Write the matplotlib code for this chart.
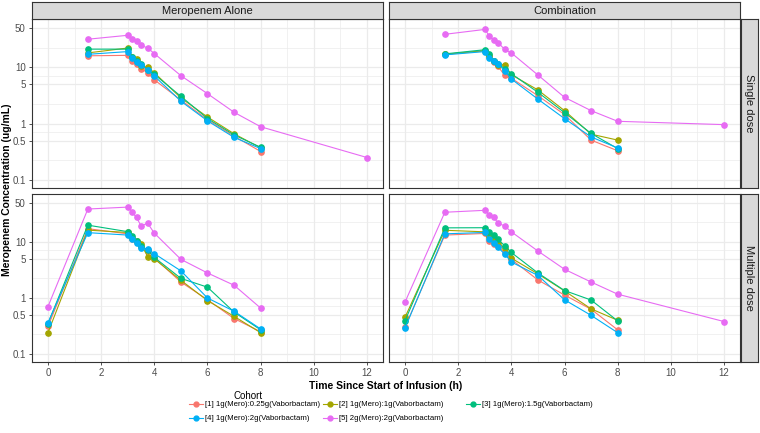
import numpy as np
import matplotlib
matplotlib.use("Agg")
import matplotlib.pyplot as plt
from matplotlib.lines import Line2D

plt.rcParams['font.family'] = ['Liberation Sans', 'DejaVu Sans']

# time points (h)
t_sd = [1.5, 3, 3.17, 3.33, 3.5, 3.75, 4, 5, 6, 7, 8]
t_md = [0] + t_sd
t_late = 12  # extra late sample, only some cohort-5 series

cohorts = ["[1] 1g(Mero):0.25g(Vaborbactam)", "[2] 1g(Mero):1g(Vaborbactam)",
           "[3] 1g(Mero):1.5g(Vaborbactam)", "[4] 1g(Mero):2g(Vaborbactam)",
           "[5] 2g(Mero):2g(Vaborbactam)"]
colors = ["#F8766D", "#A3A500", "#00BF7D", "#00B0F6", "#E76BF3"]

col_labels = ["Meropenem Alone", "Combination"]
row_labels = ["Single dose", "Multiple dose"]

# meropenem alone, single dose
alone_sd = [
    [16, 16.3, 13, 11.5, 9.5, 8, 6, 2.62, 1.17, 0.6, 0.32],
    [18, 22, 15.5, 14, 10.5, 10, 8, 2.86, 1.31, 0.66, 0.37],
    [21, 21, 15, 13, 11.5, 9, 7.5, 3.05, 1.23, 0.63, 0.38],
    [17, 19, 14.5, 12.5, 11, 9, 7, 2.5, 1.12, 0.57, 0.36],
    [31.5, 37, 32, 29, 24.5, 22, 17.5, 7.1, 3.4, 1.59, 0.88, 0.25],
]
# combination, single dose
combo_sd = [
    [17, 19.5, 16, 12.2, 10.4, 7.2, 6.4, 3.13, 1.45, 0.51, 0.33],
    [17, 19.8, 16, 13, 11, 11.1, 7.4, 3.96, 1.7, 0.65, 0.51],
    [17.3, 20.5, 17.3, 13.2, 11.5, 9.4, 7.7, 3.6, 1.57, 0.67, 0.36],
    [16.6, 19, 14.5, 13, 11.6, 8.7, 6.2, 2.72, 1.23, 0.58, 0.37],
    [38.5, 47, 36.5, 30.6, 27.4, 20.8, 18, 7.3, 2.93, 1.7, 1.1, 0.96],
]
# meropenem alone, multiple dose
alone_md = [
    [0.31, 17.3, 14, 11.5, 10, 8.3, 7, 5.2, 1.93, 0.93, 0.43, 0.25],
    [0.24, 16.3, 14.8, 12, 10.5, 9.1, 5.5, 5.0, 2.07, 0.9, 0.47, 0.24],
    [0.35, 20, 15.3, 12.9, 10.6, 8.5, 7.2, 5.3, 2.24, 1.56, 0.56, 0.27],
    [0.36, 14.7, 13.3, 11.3, 9.8, 7.7, 7.4, 6.2, 3.05, 1.0, 0.58, 0.28],
    [0.7, 38.8, 42, 34, 27.4, 19.5, 21.6, 14.4, 4.9, 2.8, 1.69, 0.66],
]
# combination, multiple dose
combo_md = [
    [0.3, 13.3, 14.2, 10.5, 9.2, 8.5, 6.4, 4.9, 2.1, 1.13, 0.63, 0.27],
    [0.45, 16.2, 15.2, 12.5, 11.6, 9.5, 7.8, 5.15, 2.7, 1.34, 0.64, 0.4],
    [0.39, 17.9, 18, 15.2, 13.2, 11.1, 8.6, 6.5, 2.8, 1.36, 0.92, 0.39],
    [0.29, 14, 14.8, 11.1, 9.5, 8.0, 6.1, 4.4, 2.53, 0.93, 0.49, 0.24],
    [0.84, 34, 36.8, 30.5, 27.8, 21.8, 19.3, 15.2, 6.9, 3.26, 1.93, 1.17, 0.38],
]

y_breaks = [0.1, 0.5, 1, 5, 10, 50]
y_labels = ["0.1", "0.5", "1", "5", "10", "50"]
x_breaks = [0, 2, 4, 6, 8, 10, 12]

W, H = 760, 433
fig = plt.figure(figsize=(W / 100, H / 100), dpi=100)

def px_axes(x0, y0, x1, y1):
    return fig.add_axes([x0 / W, 1 - y1 / H, (x1 - x0) / W, (y1 - y0) / H])

cols_px = [(32, 383), (389, 740)]
rows_px = [(19, 188), (194, 362)]
panels = [[alone_sd, combo_sd], [alone_md, combo_md]]
row_times = [t_sd, t_md]

ymaj = np.log10(y_breaks)
yminor = 10 ** ((ymaj[:-1] + ymaj[1:]) / 2)

for r in range(2):
    for c in range(2):
        x0, x1 = cols_px[c]
        y0, y1 = rows_px[r]
        ax = px_axes(x0, y0, x1, y1)
        ax.set_yscale("log")
        ax.set_xlim(-0.6, 12.6)
        ax.set_ylim(0.072, 72)
        for v in yminor:
            ax.axhline(v, color="#EBEBEB", lw=0.5, zorder=0)
        for v in [1, 3, 5, 7, 9, 11]:
            ax.axvline(v, color="#EBEBEB", lw=0.5, zorder=0)
        for v in y_breaks:
            ax.axhline(v, color="#EBEBEB", lw=0.9, zorder=0)
        for v in x_breaks:
            ax.axvline(v, color="#EBEBEB", lw=0.9, zorder=0)
        times = row_times[r]
        for k, vals in enumerate(panels[r][c]):
            tt = list(times)
            if len(vals) > len(tt):
                tt.append(t_late)
            ax.plot(tt, vals, color=colors[k], lw=0.8, marker="o", ms=3.8,
                    zorder=2 + k)
        ax.minorticks_off()
        ax.set_yticks(y_breaks)
        ax.set_xticks(x_breaks)
        if c == 0:
            ax.set_yticklabels(y_labels)
        else:
            ax.set_yticklabels([])
        if r == 1:
            ax.set_xticklabels([str(v) for v in x_breaks])
        else:
            ax.set_xticklabels([])
        ax.tick_params(axis="both", length=2.5, width=0.6, color="#333333",
                       labelsize=7, labelcolor="#4D4D4D", pad=2)
        if r == 0:
            ax.tick_params(axis="x", length=0)
        if c == 1:
            ax.tick_params(axis="y", length=0)
        for s in ax.spines.values():
            s.set_color("#333333")
            s.set_linewidth(0.8)

# top strips
for c in range(2):
    x0, x1 = cols_px[c]
    sax = px_axes(x0, 2, x1, 19)
    sax.set_facecolor("#D9D9D9")
    sax.set_xticks([]); sax.set_yticks([])
    for s in sax.spines.values():
        s.set_color("#333333"); s.set_linewidth(0.8)
    sax.text(0.5, 0.5, col_labels[c], ha="center", va="center",
             fontsize=8, color="#1A1A1A", transform=sax.transAxes)

# right strips
for r in range(2):
    y0, y1 = rows_px[r]
    sax = px_axes(741, y0, 758, y1)
    sax.set_facecolor("#D9D9D9")
    sax.set_xticks([]); sax.set_yticks([])
    for s in sax.spines.values():
        s.set_color("#333333"); s.set_linewidth(0.8)
    sax.text(0.5, 0.5, row_labels[r], ha="center", va="center", rotation=-90,
             fontsize=8, color="#1A1A1A", transform=sax.transAxes)

fig.text(7 / W, 1 - 190 / H, "Meropenem Concentration (ug/mL)", rotation=90,
         ha="center", va="center", fontsize=7.5, fontweight="bold")
fig.text(386 / W, 1 - 386 / H, "Time Since Start of Infusion (h)",
         ha="center", va="center", fontsize=7.5, fontweight="bold")

# legend: three columns placed by hand, filled row-wise like ggplot
handles = [Line2D([], [], color=colors[k], lw=0.8, marker="o", ms=3.5)
           for k in range(5)]
legend_cols = [[0, 3], [1, 4], [2]]
legend_x = [189, 323, 466]
for idx, xp in zip(legend_cols, legend_x):
    fig.legend([handles[i] for i in idx], [cohorts[i] for i in idx],
               ncol=1, loc="upper left",
               bbox_to_anchor=(xp / W, 1 - 401 / H),
               frameon=False, fontsize=5.6, handlelength=1.8,
               handletextpad=0.3, labelspacing=0.85, borderpad=0,
               borderaxespad=0)
fig.text(248 / W, 1 - 396 / H, "Cohort", ha="center", va="center",
         fontsize=7)

fig.savefig("out.png", dpi=100)
